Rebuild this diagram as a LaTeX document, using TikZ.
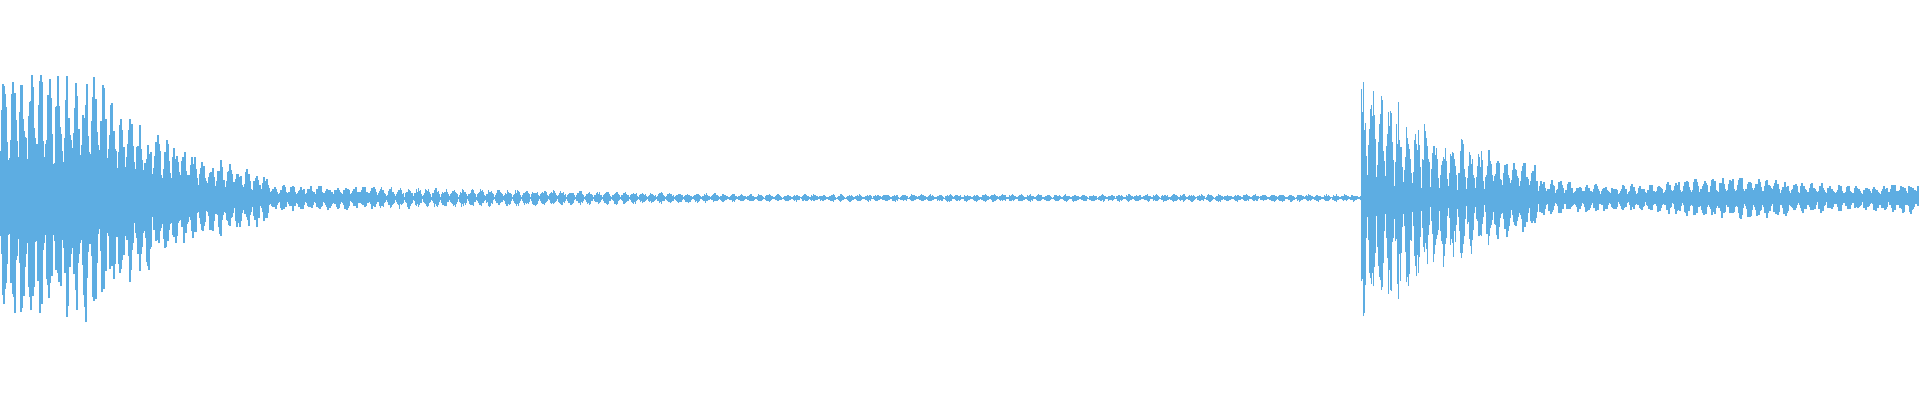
\documentclass[tikz,border=0pt]{standalone}
\definecolor{wave}{RGB}{93,173,226}
\begin{document}
\begin{tikzpicture}
\useasboundingbox[fill=white] (0,0) rectangle (19.2,4);
\pgfmathsetseed{7}
\foreach \i in {0,1,...,1919}{
  \ifnum\i<90 \def\e{130}\else
  \ifnum\i<270 \pgfmathsetmacro\e{118*exp(-(\i-90)/90)+12}\else
  \ifnum\i<760 \pgfmathsetmacro\e{14-10*(\i-270)/490}\else
  \ifnum\i<1362 \def\e{4}\else
  \ifnum\i<1540 \pgfmathsetmacro\e{125*exp(-(\i-1362)/100)+16}\else
  \pgfmathsetmacro\e{18+4*sin(\i*1.5)}\fi\fi\fi\fi\fi
  \pgfmathtruncatemacro\k{mod(\i,18)}
  \pgfmathsetmacro\m{0.2+0.8*abs(sin(\k*20))}
  \pgfmathsetmacro\a{\e*\m*(0.55+0.45*rnd)*0.01}
  \pgfmathsetmacro\b{\e*\m*(0.55+0.45*rnd)*0.01}
  \draw[wave,line width=0.4pt] (\i*0.01,2.02-\a) -- (\i*0.01,2.02+\b);
}
\end{tikzpicture}
\end{document}
